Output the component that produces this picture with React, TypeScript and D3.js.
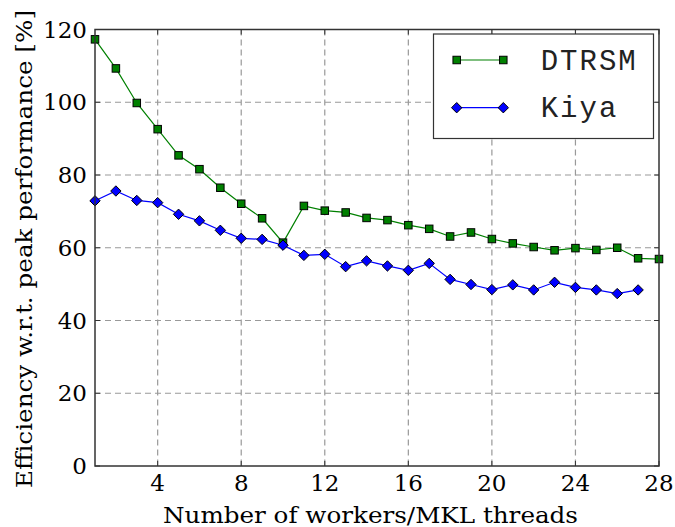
import React from "react";
import * as d3 from "d3";

const threadsDtrsm = [1,2,3,4,5,6,7,8,9,10,11,12,13,14,15,16,17,18,19,20,21,22,23,24,25,26,27,28];
const dtrsm = [117.3,109.3,99.8,92.6,85.4,81.6,76.5,72.1,68.1,61.4,71.5,70.2,69.7,68.2,67.6,66.2,65.2,63.1,64.2,62.4,61.2,60.2,59.3,59.9,59.4,60.0,57.1,56.9];
const threadsKiya = [1,2,3,4,5,6,7,8,9,10,11,12,13,14,15,16,17,18,19,20,21,22,23,24,25,26,27];
const kiya = [72.9,75.6,73.0,72.4,69.2,67.4,64.8,62.6,62.3,60.7,57.9,58.2,54.8,56.4,55.0,53.8,55.7,51.3,49.9,48.5,49.8,48.4,50.5,49.1,48.4,47.4,48.4];
const xTicks = [4,8,12,16,20,24,28];
const yTicks = [0,20,40,60,80,100,120];

const W = 675, H = 527;
const L = 95, R = 659, T = 29.5, B = 466;

export default function App() {
  const x = d3.scaleLinear().domain([1, 28]).range([L, R]);
  const y = d3.scaleLinear().domain([0, 120]).range([B, T]);
  const line = d3.line<[number, number]>().x(d => x(d[0])).y(d => y(d[1]));
  const dPts: [number, number][] = threadsDtrsm.map((t, i) => [t, dtrsm[i]]);
  const kPts: [number, number][] = threadsKiya.map((t, i) => [t, kiya[i]]);
  const serif = "DejaVu Serif, serif";
  const mono = "Liberation Mono, DejaVu Sans Mono, monospace";
  const sq = 7.5;
  const dm = 5.2;
  const diamond = (cx: number, cy: number) => `M${cx},${cy - dm}L${cx + dm},${cy}L${cx},${cy + dm}L${cx - dm},${cy}Z`;
  return (
    <svg width={W} height={H} style={{ position: "absolute", left: 0, top: 0, background: "#fff" }}>
      {/* grid */}
      {xTicks.filter(t => t < 28).map(t => (
        <line key={"gx" + t} x1={x(t)} x2={x(t)} y1={T} y2={B} stroke="#999" strokeWidth={1.2} strokeDasharray="6,4" />
      ))}
      {yTicks.filter(t => t > 0 && t < 120).map(t => (
        <line key={"gy" + t} x1={L} x2={R} y1={y(t)} y2={y(t)} stroke="#999" strokeWidth={1.2} strokeDasharray="6,4" />
      ))}
      {/* series */}
      <path d={line(dPts) || ""} fill="none" stroke="#008000" strokeWidth={1.2} />
      <path d={line(kPts) || ""} fill="none" stroke="#0000ff" strokeWidth={1.2} />
      {dPts.map((p, i) => (
        <rect key={"d" + i} x={x(p[0]) - sq / 2} y={y(p[1]) - sq / 2} width={sq} height={sq} fill="#008000" stroke="#000" strokeWidth={1} />
      ))}
      {kPts.map((p, i) => (
        <path key={"k" + i} d={diamond(x(p[0]), y(p[1]))} fill="#0000ff" stroke="#000" strokeWidth={1} />
      ))}
      {/* frame */}
      <rect x={L} y={T} width={R - L} height={B - T} fill="none" stroke="#333" strokeWidth={1.5} />
      {/* ticks */}
      {xTicks.map(t => (
        <g key={"tx" + t}>
          <line x1={x(t)} x2={x(t)} y1={B} y2={B - 5} stroke="#333" />
          <line x1={x(t)} x2={x(t)} y1={T} y2={T + 5} stroke="#333" />
          <text x={x(t)} y={491} textAnchor="middle" fontFamily={serif} fontSize={23} fill="#000">{t}</text>
        </g>
      ))}
      {yTicks.map(t => (
        <g key={"ty" + t}>
          <line x1={L} x2={L + 5} y1={y(t)} y2={y(t)} stroke="#333" />
          <line x1={R} x2={R - 5} y1={y(t)} y2={y(t)} stroke="#333" />
          <text x={87} y={y(t) + 8} textAnchor="end" fontFamily={serif} fontSize={23} fill="#000">{t}</text>
        </g>
      ))}
      {/* axis labels */}
      <text x={370.5} y={523} textAnchor="middle" fontFamily={serif} fontSize={23} textLength={415} lengthAdjust="spacingAndGlyphs" fill="#000">Number of workers/MKL threads</text>
      <text transform={`translate(32,249) rotate(-90)`} textAnchor="middle" fontFamily={serif} fontSize={23} textLength={478} lengthAdjust="spacingAndGlyphs" fill="#000">Efficiency w.r.t. peak performance [%]</text>
      {/* legend */}
      <rect x={433.5} y={34} width={220} height={104.5} fill="#fff" stroke="#333" strokeWidth={1.2} />
      <line x1={456.7} x2={503.3} y1={60} y2={60} stroke="#008000" strokeWidth={1.2} />
      <rect x={456.7 - sq / 2} y={60 - sq / 2} width={sq} height={sq} fill="#008000" stroke="#000" />
      <rect x={503.3 - sq / 2} y={60 - sq / 2} width={sq} height={sq} fill="#008000" stroke="#000" />
      <text x={540.7} y={69.5} fontFamily={mono} fontSize={29} letterSpacing={2} fill="#222">DTRSM</text>
      <line x1={456.7} x2={503.3} y1={107.7} y2={107.7} stroke="#0000ff" strokeWidth={1.2} />
      <path d={diamond(456.7, 107.7)} fill="#0000ff" stroke="#000" />
      <path d={diamond(503.3, 107.7)} fill="#0000ff" stroke="#000" />
      <text x={540.7} y={117} fontFamily={mono} fontSize={29} letterSpacing={2} fill="#222">Kiya</text>
    </svg>
  );
}
